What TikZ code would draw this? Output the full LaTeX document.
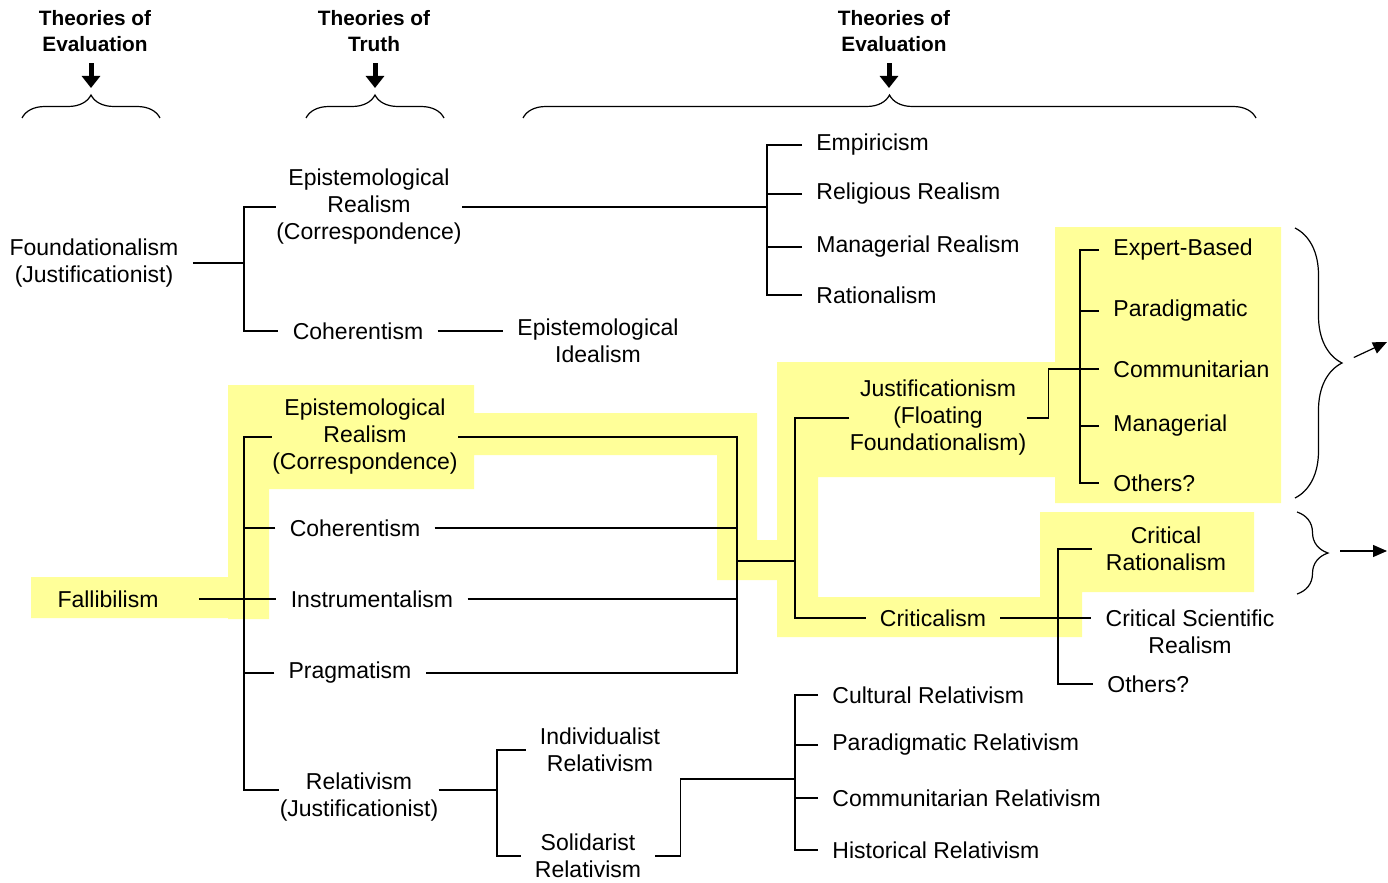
\documentclass[tikz,border=0pt]{standalone}
\usepackage{fontspec}
\setmainfont{Liberation Sans}
\usepackage{tikz}
\usetikzlibrary{positioning,calc,arrows.meta,decorations.pathreplacing}
\definecolor{hlyellow}{RGB}{255,255,153}

\begin{document}
\begin{tikzpicture}[x=0.5pt,y=-0.5pt,
    lbl/.style={font=\fontsize{11.5}{13.5}\selectfont, align=center, inner sep=0pt, inner xsep=7pt},
    tight/.style={lbl, inner xsep=0pt},
    leaf/.style={lbl, anchor=west},
    hdr/.style={font=\bfseries\fontsize{10.4}{13}\selectfont, align=center, inner sep=0pt},
    conn/.style={line width=0.6pt},
    hdrarrow/.style={line width=2.5pt, -{Triangle[width=9pt,length=6pt]}, shorten <=5.5pt, shorten >=3.5pt},
    outarrow/.style={line width=0.6pt, -{Triangle[width=6pt,length=7pt]}},
    curly/.style={line width=0.6pt, decorate, decoration={brace, amplitude=#1}}]
    \useasboundingbox (0,0) rectangle (1388,883);

    % highlighted path
    \fill[hlyellow] (31,577) rectangle (229,618)
        (228,385) rectangle (269,619)
        (228,385) rectangle (474,489)
        (474,413) rectangle (757,455)
        (717,413) rectangle (757,580)
        (717,540) rectangle (777,580)
        (777,362) rectangle (1056,477)
        (777,362) rectangle (818,637)
        (777,597) rectangle (1082,637)
        (1040,512) rectangle (1254,592)
        (1040,512) rectangle (1082,637)
        (1055,227) rectangle (1281,503);

    % headers
    \node[hdr] (hdrA) at (95,31) {Theories of\\Evaluation};
    \node[hdr] (hdrB) at (374,31) {Theories of\\Truth};
    \node[hdr] (hdrC) at (894,31) {Theories of\\Evaluation};
    \coordinate (tipA) at (91,95);
    \coordinate (tipB) at (375,95);
    \coordinate (tipC) at (889,95);
    \draw[hdrarrow] (hdrA.south -| tipA) -- (tipA);
    \draw[hdrarrow] (hdrB.south -| tipB) -- (tipB);
    \draw[hdrarrow] (hdrC.south -| tipC) -- (tipC);
    \draw[curly=11.5pt] (22,118) -- (160,118);
    \draw[curly=11.5pt] (306,118) -- (444,118);
    \draw[curly=11.5pt] (523,118) -- (1256,118);

    % foundationalism tree
    \node[lbl] (fnd) at (94,263) {Foundationalism\\(Justificationist)};
    \node[tight] (erA) at (369,207) {Epistemological\\Realism\\(Correspondence)};
    \node[lbl] (cohA) at (358,331) {Coherentism};
    \node[lbl] (idl) at (598,341) {Epistemological\\Idealism};
    \node[leaf] (emp) at (802,145) {Empiricism};
    \node[leaf] (rlg) at (802,194) {Religious Realism};
    \node[leaf] (mgr) at (802,247) {Managerial Realism};
    \node[leaf] (rat) at (802,295) {Rationalism};
    \coordinate (jA) at (244,263);
    \coordinate (jB) at (767,211);
    \draw[conn] (fnd.east) -- (jA);
    \draw[conn] (erA.west) -| (jA) |- (cohA.west);
    \draw[conn] (erA.east) -- (erA.east -| jB);
    \draw[conn] (emp.west) -| (jB) |- (rat.west);
    \foreach \n in {rlg,mgr} \draw[conn] (\n.west) -- (\n.west -| jB);
    \draw[conn] (cohA.east) -- (cohA.east -| idl.west);

    % fallibilism tree
    \node[lbl, inner xsep=20pt] (fal) at (108,599) {Fallibilism};
    \node[tight] (erB) at (365,437) {Epistemological\\Realism\\(Correspondence)};
    \node[lbl] (cohB) at (355,528) {Coherentism};
    \node[lbl] (ins) at (372,599) {Instrumentalism};
    \node[lbl] (prg) at (350,673) {Pragmatism};
    \node[tight] (rlt) at (359,797) {Relativism\\(Justificationist)};
    \coordinate (jC) at (244,599);
    \coordinate (jD) at (737,561);
    \coordinate (jE) at (795,561);
    \draw[conn] (fal.east) -- (ins.west);
    \draw[conn] (erB.west) -| (jC) |- ([yshift=3.5pt]rlt.west);
    \foreach \n in {cohB,prg} \draw[conn] (\n.west) -- (\n.west -| jC);
    \draw[conn] (erB.east) -| (jD) |- (prg.east);
    \foreach \n in {cohB,ins} \draw[conn] (\n.east) -- (\n.east -| jD);
    \draw[conn] (jD) -- (jE);

    % justificationism / criticalism
    \node[tight] (just) at (938,418) {Justificationism\\(Floating\\Foundationalism)};
    \node[lbl] (crit) at (933,618) {Criticalism};
    \draw[conn] (just.west) -| (jE) |- (crit.west);
    \node[leaf] (exp) at (1099,250) {Expert-Based};
    \node[leaf] (par) at (1099,311) {Paradigmatic};
    \node[leaf] (com) at (1099,369) {Communitarian};
    \node[leaf] (man) at (1099,426) {Managerial};
    \node[leaf] (oth) at (1099,483) {Others?};
    \coordinate (jF) at (1080,369);
    \draw[conn] (exp.west) -| (jF) |- (oth.west);
    \foreach \n in {par,com,man} \draw[conn] (\n.west) -- (\n.west -| jF);
    \draw[conn] (just.east) -- ++(22,0) |- (com.west);
    \node[lbl] (cr) at (1166,549) {Critical\\Rationalism};
    \node[lbl] (csr) at (1190,632) {Critical Scientific\\Realism};
    \node[leaf] (oth2) at (1093,684) {Others?};
    \coordinate (jG) at (1058,619);
    \draw[conn] (cr.west) -| (jG) |- (oth2.west);
    \draw[conn] (crit.east) -- (crit.east -| csr.west);

    % relativism
    \node[lbl] (ind) at (600,750) {Individualist\\Relativism};
    \node[lbl] (sol) at (588,856) {Solidarist\\Relativism};
    \coordinate (jH) at (497,790);
    \draw[conn] ([yshift=3.5pt]rlt.east) -- (jH);
    \draw[conn] (ind.west) -| (jH) |- (sol.west);
    \node[leaf] (cul) at (818,695) {Cultural Relativism};
    \node[leaf] (prl) at (818,745) {Paradigmatic Relativism};
    \node[leaf] (crl) at (818,798) {Communitarian Relativism};
    \node[leaf] (hrl) at (818,850) {Historical Relativism};
    \coordinate (jI) at (795,779);
    \draw[conn] (cul.west) -| (jI) |- (hrl.west);
    \foreach \n in {prl,crl} \draw[conn] (\n.west) -- (\n.west -| jI);
    \draw[conn] (sol.east) -- ++(25,0) |- (jI);

    % outcome braces
    \draw[curly=23.5pt] (1295,228) -- (1295,498);
    \draw[curly=15.5pt] (1297,512) -- (1297,594);
    \coordinate (bigtip) at (1342,363);
    \coordinate (smalltip) at (1328,553);
    \coordinate (outA) at (1387,342);
    \coordinate (outB) at (1387,551);
    \draw[outarrow, shorten <=6.5pt] (bigtip) -- (outA);
    \draw[outarrow, shorten <=6pt] (smalltip |- outB) -- (outB);
\end{tikzpicture}
\end{document}
